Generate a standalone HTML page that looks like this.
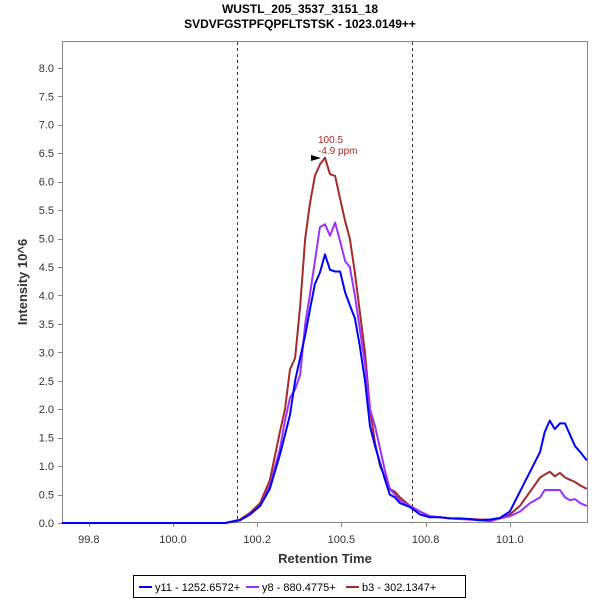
<!DOCTYPE html>
<html><head><meta charset="utf-8"><style>
body{margin:0;background:#fff;font-family:"Liberation Sans",sans-serif}
</style></head><body>
<svg width="600" height="600" xmlns="http://www.w3.org/2000/svg" font-family="Liberation Sans, sans-serif">
<text x="300" y="13" text-anchor="middle" font-size="12" font-weight="bold">WUSTL_205_3537_3151_18</text>
<text x="300" y="28" text-anchor="middle" font-size="12" font-weight="bold">SVDVFGSTPFQPFLTSTSK - 1023.0149++</text>
<rect x="62.5" y="41.5" width="525" height="481" fill="#fff" stroke="#888"/>
<g id="yaxis"></g>
<g id="xaxis"></g>
<text transform="translate(27,282) rotate(-90)" text-anchor="middle" font-size="13" font-weight="bold" fill="#333">Intensity 10^6</text>
<text x="325" y="563" text-anchor="middle" font-size="13" font-weight="bold" fill="#333">Retention Time</text>
<g id="series"></g>
<g>
<text x="318" y="143" font-size="10" fill="#a52a2a">100.5</text>
<text x="318" y="154" font-size="10" fill="#a52a2a">-4.9 ppm</text>
<polygon points="311,155 321,158 311,161" fill="#000"/>
</g>
<g>
<rect x="133.5" y="575.5" width="332" height="22" fill="#fff" stroke="#000"/>
<line x1="139" y1="587" x2="152" y2="587" stroke="#0000ff" stroke-width="2"/>
<text x="155" y="591" font-size="11">y11 - 1252.6572+</text>
<line x1="246" y1="587" x2="259" y2="587" stroke="#9b30ff" stroke-width="2"/>
<text x="262" y="591" font-size="11">y8 - 880.4775+</text>
<line x1="346" y1="587" x2="359" y2="587" stroke="#a52a2a" stroke-width="2"/>
<text x="362" y="591" font-size="11">b3 - 302.1347+</text>
</g>
</svg>
<script>
const times=[99.736,100.124,100.159,100.183,100.207,100.230,100.254,100.266,100.278,100.290,100.302,100.314,100.325,100.337,100.349,100.361,100.373,100.385,100.397,100.409,100.420,100.432,100.444,100.456,100.468,100.480,100.492,100.504,100.515,100.527,100.539,100.563,100.587,100.610,100.634,100.658,100.682,100.705,100.729,100.753,100.777,100.800,100.824,100.848,100.872,100.883,100.895,100.907,100.919,100.931,100.943,100.955,100.967,100.983];
const y11=[0,0,0.05,0.15,0.3,0.6,1.2,1.55,1.9,2.5,2.9,3.3,3.74,4.2,4.4,4.72,4.45,4.42,4.42,4.05,3.83,3.6,3.1,2.5,1.7,1.35,1.05,0.75,0.5,0.45,0.35,0.28,0.15,0.1,0.1,0.08,0.08,0.07,0.05,0.06,0.09,0.2,0.55,0.9,1.25,1.6,1.8,1.65,1.75,1.75,1.55,1.35,1.25,1.1];
const y8=[0,0,0.05,0.15,0.3,0.65,1.3,1.8,2.2,2.35,2.6,3.5,4.0,4.6,5.2,5.25,5.05,5.28,4.95,4.6,4.5,4.0,3.4,2.8,2.0,1.7,1.3,0.9,0.6,0.5,0.4,0.3,0.2,0.12,0.1,0.08,0.07,0.06,0.05,0.03,0.08,0.12,0.2,0.35,0.45,0.58,0.58,0.58,0.58,0.45,0.4,0.42,0.35,0.3];
const b3=[0,0,0.06,0.18,0.35,0.75,1.6,2.0,2.7,2.9,3.8,5.0,5.6,6.1,6.3,6.42,6.13,6.1,5.7,5.3,5.0,4.4,3.7,3.0,2.0,1.4,1.0,0.8,0.6,0.55,0.45,0.3,0.2,0.12,0.1,0.08,0.07,0.07,0.06,0.06,0.08,0.15,0.3,0.55,0.8,0.85,0.9,0.82,0.88,0.8,0.76,0.72,0.66,0.6];
const xTicks=[99.8,100.0,100.2,100.4,100.6,100.8];
const xTickLabels=['99.8','100.0','100.2','100.5','100.8','101.0'];
const yTicks=[0,0.5,1,1.5,2,2.5,3,3.5,4,4.5,5,5.5,6,6.5,7,7.5,8];
const boundaries=[100.152,100.568];
const NS='http://www.w3.org/2000/svg';
function X(t){return 173+(t-100)*421;}
function Y(v){return 523-v*56.9;}
function mk(tag,attrs,parent){const e=document.createElementNS(NS,tag);for(const k in attrs)e.setAttribute(k,attrs[k]);parent.appendChild(e);return e;}
const ya=document.getElementById('yaxis'),xa=document.getElementById('xaxis'),sg=document.getElementById('series');
yTicks.forEach(v=>{
 const yy=Math.round(Y(v))+0.5;
 const l=mk('line',{x1:58,x2:62,y1:yy,y2:yy,stroke:'#888'},ya);
 
 
 const t=mk('text',{x:54,y:Y(v)+4,'text-anchor':'end','font-size':11,fill:'#333'},ya);
 
 
 t.textContent=v.toFixed(1);
});
xTicks.forEach((v,i)=>{
 const xx=Math.round(X(v))+0.5;
 const l=mk('line',{x1:xx,x2:xx,y1:523,y2:527,stroke:'#888'},xa);
 
 
 const t=mk('text',{x:X(v),y:543,'text-anchor':'middle','font-size':11,fill:'#333'},xa);
 
 
 t.textContent=xTickLabels[i];
});
boundaries.forEach(b=>{
 const xx=Math.round(X(b))+0.5;
 const l=mk('line',{x1:xx,x2:xx,y1:42,y2:523,stroke:'#333','stroke-dasharray':'3,3','stroke-width':1},sg);
 
 
});
[[b3,'#a52a2a','series-b3'],[y8,'#9b30ff','series-y8'],[y11,'#0000ff','series-y11']].forEach(([d,c,n])=>{
 const p=mk('polyline',{points:d.map((v,i)=>X(times[i]).toFixed(1)+','+Y(v).toFixed(1)).join(' '),fill:'none',stroke:c,'stroke-width':2,'stroke-linejoin':'round'},sg);
 
 
});
</script>
</body></html>
